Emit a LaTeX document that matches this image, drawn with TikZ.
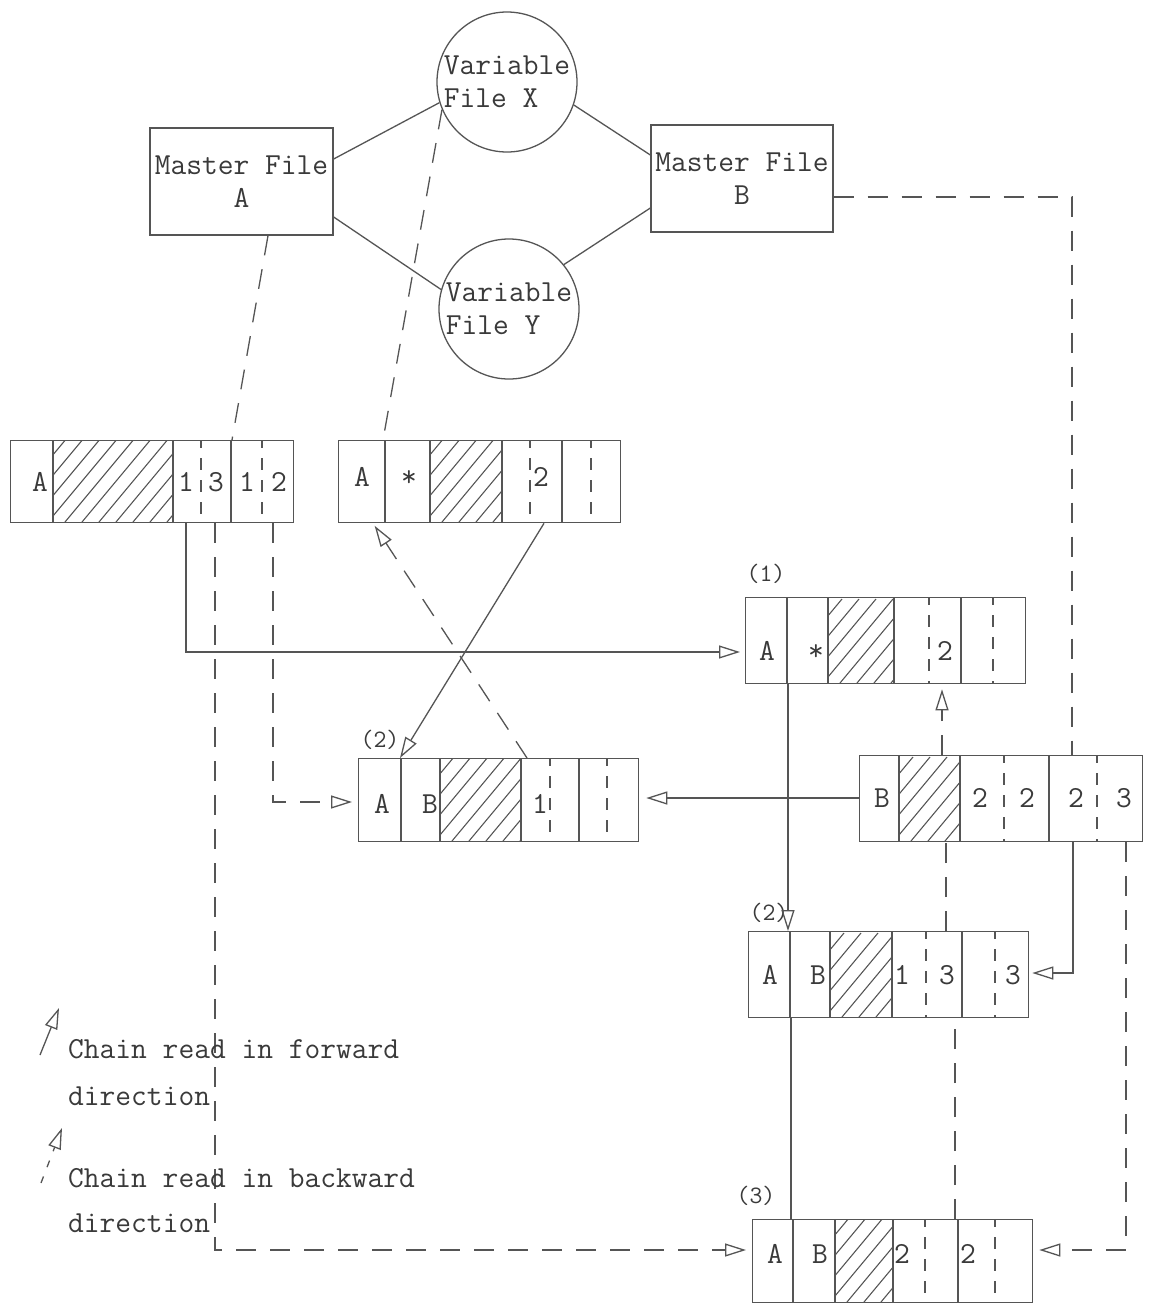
\documentclass[tikz,border=0pt]{standalone}
\usepackage{fontspec}
\usetikzlibrary{arrows.meta}
\definecolor{ink}{HTML}{555555}
\definecolor{txt}{HTML}{3A3A3A}
\tikzset{
  every node/.style={font=\ttfamily\fontsize{30.6}{33}\selectfont, text=txt},
  conn/.style={draw=ink, line width=1.3pt},
  dconn/.style={conn, dash pattern=on 20pt off 14pt},
  tip/.style={-{Triangle[open, length=21pt, width=13pt]}},
  mbox/.style={draw=ink, line width=1.3pt, align=center, inner sep=0pt},
  vcirc/.style={circle, draw=ink, line width=1.3pt, minimum size=140pt, inner sep=0pt, align=left},
  rec/.style={draw=ink, line width=1.3pt, fill=white, inner sep=0pt, anchor=north west},
  cell/.style={draw=ink, line width=1.3pt},
  dcell/.style={cell, dash pattern=on 12pt off 10pt, dash phase=4pt},
  hl/.style={draw=ink, line width=1.1pt},
  rt/.style={anchor=base, inner sep=0pt},
  lbl/.style={inner sep=0pt, font=\ttfamily\fontsize{25}{27}\selectfont},
  lg/.style={anchor=base west, inner sep=0pt}
}
\newcommand{\hatchbox}[4]{%
  \begin{scope}
  \clip (#1,#2) rectangle (#3,#4);
  \foreach \k in {-90,-73,...,130} \draw[hl] ({#1+\k},#4) -- ++(70,-84);
  \end{scope}}
\begin{document}
\begin{tikzpicture}[x=1pt,y=-1pt]
\useasboundingbox (0,0) rectangle (1149,1304);
\fill[white] (0,0) rectangle (1149,1304);

% top files
\node[mbox, minimum width=183pt, minimum height=107pt] (mA) at (241.5,181.5) {Master File\\A};
\node[mbox, minimum width=182pt, minimum height=107pt] (mB) at (742,178.5) {Master File\\B};
\node[vcirc] (cX) at (507,82) {Variable\\File X};
\node[vcirc] (cY) at (509,309) {Variable\\File Y};
\draw[conn] (mA.east |- 0,159) -- (cX.197);
\draw[conn] (mA.east |- 0,217) -- (cY.164);
\draw[conn] (mB.west |- 0,155) -- (cX.341);
\draw[conn] (mB.west |- 0,208) -- (cY.39);

% record A
\node[rec, minimum width=283pt, minimum height=82pt] (rA) at (10,440) {};
\hatchbox{53}{440}{173}{522}
\foreach \x in {53,173,231} \draw[cell] (\x,440) -- (\x,522);
\foreach \x in {201,262} \draw[dcell] (\x,440) -- (\x,522);
\node[rt] (rAa) at (40,491) {A};
\node[rt] (rA1) at (186,491) {1};
\node[rt] (rA2) at (216,491) {3};
\node[rt] (rA3) at (247,491) {1};
\node[rt] (rA4) at (279,491) {2};

% record X (top middle)
\node[rec, minimum width=282pt, minimum height=82pt] (rX) at (338,440) {};
\hatchbox{430}{440}{502}{522}
\foreach \x in {385,430,502,562} \draw[cell] (\x,440) -- (\x,522);
\foreach \x in {530,591} \draw[dcell] (\x,440) -- (\x,522);
\node[rt] (rXa) at (362,486) {A};
\node[rt] (rXb) at (409,486) {*};
\node[rt] (rXc) at (541,486) {2};

% record (1)
\node[rec, minimum width=280pt, minimum height=86pt] (r1) at (745,597) {};
\hatchbox{828}{597}{894}{683}
\foreach \x in {787,828,894,961} \draw[cell] (\x,597) -- (\x,683);
\foreach \x in {929,993} \draw[dcell] (\x,597) -- (\x,683);
\node[rt] (r1a) at (767,660) {A};
\node[rt] (r1b) at (816,660) {*};
\node[rt] (r1c) at (945,660) {2};
\node[lbl] (l1) at (766,574) {(1)};

% record (2) middle
\node[rec, minimum width=280pt, minimum height=83pt] (r2m) at (358,758) {};
\hatchbox{440}{758}{521}{841}
\foreach \x in {401,440,521,579} \draw[cell] (\x,758) -- (\x,841);
\foreach \x in {550,607} \draw[dcell] (\x,758) -- (\x,841);
\node[rt] (r2ma) at (382,813) {A};
\node[rt] (r2mb) at (430,813) {B};
\node[rt] (r2mc) at (540,813) {1};
\node[lbl] (l2m) at (380,740) {(2)};

% record B
\node[rec, minimum width=283pt, minimum height=86pt] (rB) at (859,755) {};
\hatchbox{899}{755}{960}{841}
\foreach \x in {899,960,1049} \draw[cell] (\x,755) -- (\x,841);
\foreach \x in {1004,1097} \draw[dcell] (\x,755) -- (\x,841);
\node[rt] (rBa) at (882,807) {B};
\node[rt] (rBb) at (980,807) {2};
\node[rt] (rBc) at (1027,807) {2};
\node[rt] (rBd) at (1076,807) {2};
\node[rt] (rBe) at (1124,807) {3};

% record (2) lower right
\node[rec, minimum width=280pt, minimum height=86pt] (r2l) at (748,931) {};
\hatchbox{830}{931}{892}{1017}
\foreach \x in {790,830,892,962} \draw[cell] (\x,931) -- (\x,1017);
\foreach \x in {926,995} \draw[dcell] (\x,931) -- (\x,1017);
\node[rt] (r2la) at (770,984) {A};
\node[rt] (r2lb) at (818,984) {B};
\node[rt] (r2lc) at (902,984) {1};
\node[rt] (r2ld) at (947,984) {3};
\node[rt] (r2le) at (1013,984) {3};
\node[lbl] (l2l) at (769,913) {(2)};

% record (3)
\node[rec, minimum width=280pt, minimum height=83pt] (r3) at (752,1219) {};
\hatchbox{835}{1219}{893}{1302}
\foreach \x in {793,835,893,958} \draw[cell] (\x,1219) -- (\x,1302);
\foreach \x in {925,995} \draw[dcell] (\x,1219) -- (\x,1302);
\node[rt] (r3a) at (775,1263) {A};
\node[rt] (r3b) at (820,1263) {B};
\node[rt] (r3c) at (902,1263) {2};
\node[rt] (r3d) at (968,1263) {2};
\node[lbl] (l3) at (756,1196) {(3)};

% connectors
\draw[dconn] (mA.south -| 268,0) -- (rA.north -| 232,0);
\draw[dconn] (cX.203) -- (rX.north -| 383,0);
\draw[dconn] (mB.east |- 0,197) -| (rB.north -| 1072,0);
\draw[conn, tip, shorten >=5pt] (rA.south -| 186,0) |- (r1.west |- 0,652);
\draw[dconn, tip, shorten >=6pt] (rA.south -| 215,0) |- (r3.west |- 0,1250);
\draw[dconn, tip, shorten >=6pt] (rA.south -| 273,0) |- (r2m.west |- 0,802);
\draw[conn, tip] (rX.south -| 544,0) -- (r2m.north -| 400,0);
\draw[dconn, tip, shorten >=3pt] (r2m.north -| 527,0) -- (rX.south -| 373,0);
\draw[conn, tip, shorten >=7pt] (rB.west |- 0,798) -- (r2m.east |- 0,798);
\draw[conn, tip] (r1.south -| 788,0) -- (r2l.north -| 788,0);
\draw[conn] (r2l.south -| 791,0) -- (r3.north -| 791,0);
\draw[dconn, tip, shorten >=5pt] (rB.north -| 942,0) -- (r1.south -| 942,0);
\draw[dconn] (r2l.north -| 946,0) -- (rB.south -| 946,0);
\draw[dconn] (r3.north -| 955,0) -- (r2l.south -| 955,0);
\draw[conn, tip, shorten >=3pt] (rB.south -| 1073,0) |- (r2l.east |- 0,973);
\draw[dconn, tip, shorten >=6pt] (rB.south -| 1126,0) |- (r3.east |- 0,1250);

% legend
\coordinate (lgfa) at (40,1055);
\coordinate (lgfb) at (59,1008);
\coordinate (lgba) at (41,1183);
\coordinate (lgbb) at (62,1128);
\draw[conn, tip] (lgfa) -- (lgfb);
\draw[conn, tip, dash pattern=on 7pt off 10pt] (lgba) -- (lgbb);
\node[lg] (lg1) at (68,1058) {Chain read in forward};
\node[lg] (lg2) at (68,1105) {direction};
\node[lg] (lg3) at (68,1187) {Chain read in backward};
\node[lg] (lg4) at (68,1232) {direction};
\end{tikzpicture}
\end{document}
